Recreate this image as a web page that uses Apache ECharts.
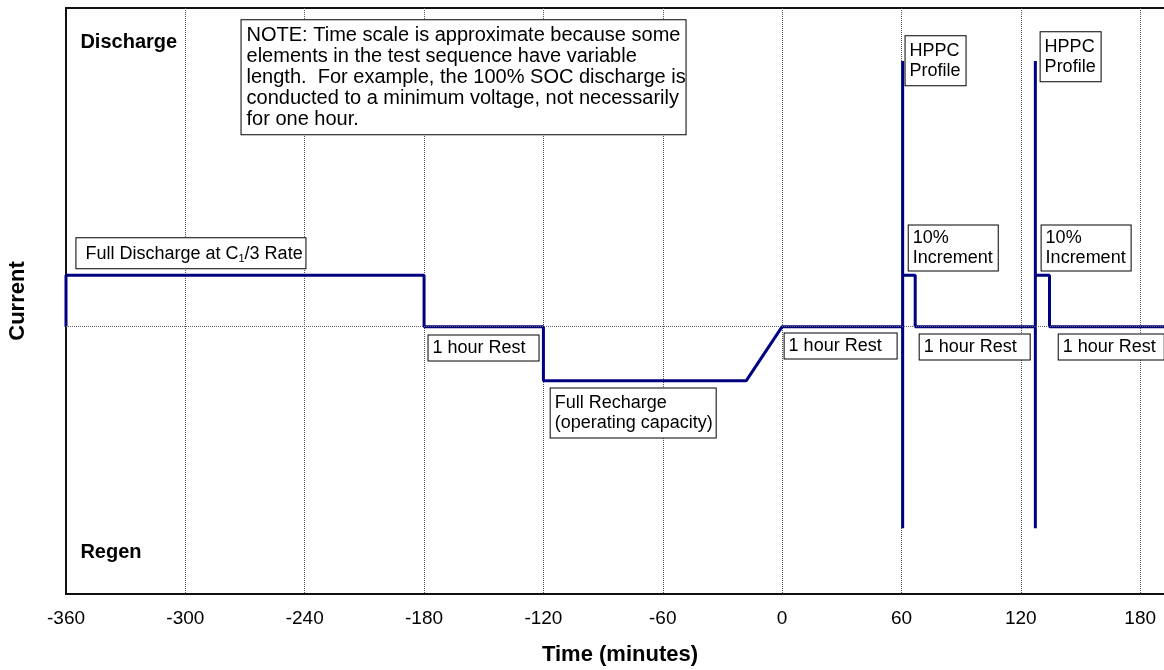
<!DOCTYPE html>
<html>
<head>
<meta charset="utf-8">
<script src="https://cdn.jsdelivr.net/npm/echarts@6/dist/echarts.min.js"></script>
<style>
html,body{margin:0;padding:0;background:#fff;}
#chart{width:1164px;height:670px;}
</style>
</head>
<body>
<div id="chart"></div>
<script>
// ---- Data ----
// Current profile: time (minutes) and relative current (discharge +, regen -)
const profileTime = [-360, -360, -180, -180, -120, -120, -18, 0, 60.6, 60.6, 60.6, 60.6, 66.9, 66.9, 127.3, 127.3, 127.3, 127.3, 134.4, 134.4, 197];
const profileCurrent = [0, 1, 1, 0, 0, -1.05, -1.05, 0, 0, 5.17, -3.92, 1, 1, 0, 0, 5.17, -3.92, 1, 1, 0, 0];
const xTicks = [-360, -300, -240, -180, -120, -60, 0, 60, 120, 180];

// Annotations (anchored in data coordinates: top-left of box)
const annoText = [
  'Full Discharge at C{sub|1}/3 Rate',
  '1 hour Rest',
  'Full Recharge\n(operating capacity)',
  '1 hour Rest',
  '1 hour Rest',
  '1 hour Rest',
  '10%\nIncrement',
  '10%\nIncrement',
  'HPPC\nProfile',
  'HPPC\nProfile',
  'NOTE: Time scale is approximate because some\nelements in the test sequence have variable\nlength.  For example, the 100% SOC discharge is\nconducted to a minimum voltage, not necessarily\nfor one hour.'
];
const annoTime = [-354.5, -177.5, -116.1, 1.5, 69.4, 139.3, 63.9, 130.7, 62.3, 130.2, -271.5];
const annoCurrent = [1.71, -0.18, -1.21, -0.14, -0.16, -0.16, 1.96, 1.96, 5.64, 5.72, 5.95];

// Region labels
const regionText = ['Discharge', 'Regen'];
const regionTime = [-352.5, -352.5];
const regionCurrent = [5.52, -4.40];

// ---- Styles ----
const FONT = '"Liberation Sans", Arial, sans-serif';
const boxStyle = [
  {w: 229, pad: [6, 4, 4, 9], fs: 18, lh: 20},
  {w: 110, pad: [3, 4, 2, 4], fs: 18, lh: 20},
  {w: 165, pad: [5, 4, 4, 4], fs: 18, lh: 20},
  {w: 112, pad: [3, 4, 2, 4], fs: 18, lh: 20},
  {w: 110, pad: [3, 4, 2, 4], fs: 18, lh: 20},
  {w: 105, pad: [3, 4, 2, 4], fs: 18, lh: 20},
  {w: 89, pad: [3, 4, 2, 4], fs: 18, lh: 20},
  {w: 89, pad: [3, 4, 2, 4], fs: 18, lh: 20},
  {w: 60, pad: [5, 4, 4, 4], fs: 18, lh: 20},
  {w: 60, pad: [5, 4, 4, 4], fs: 18, lh: 20},
  {w: 444, pad: [5, 4, 4, 5], fs: 20, lh: 21}
];

const lineData = profileTime.map((t, i) => [t, profileCurrent[i]]);

const annoData = annoText.map((txt, i) => {
  const s = boxStyle[i];
  return {
    value: [annoTime[i], annoCurrent[i]],
    label: {
      show: true,
      position: [0, 0],
      align: 'left',
      verticalAlign: 'top',
      formatter: txt,
      fontFamily: FONT,
      fontSize: s.fs,
      lineHeight: s.lh,
      color: '#000',
      opacity: 1,
      backgroundColor: '#fff',
      borderColor: '#000',
      borderWidth: 1,
      padding: s.pad,
      width: s.w - s.pad[1] - s.pad[3],
      overflow: 'none',
      rich: {
        sub: {fontSize: 11, lineHeight: s.lh, verticalAlign: 'bottom', fontFamily: FONT, color: '#000'}
      }
    }
  };
});

const regionData = regionText.map((txt, i) => ({
  value: [regionTime[i], regionCurrent[i]],
  label: {
    show: true,
    position: [0, 0],
    align: 'left',
    verticalAlign: 'middle',
    formatter: txt,
    fontFamily: FONT,
    fontSize: 20,
    fontWeight: 'bold',
    color: '#000',
    opacity: 1
  }
}));

const chart = echarts.init(document.getElementById('chart'), null, {renderer: 'canvas'});
chart.setOption({
  animation: false,
  backgroundColor: '#fff',
  grid: {
    left: 66, top: 8, bottom: 76, right: -10,
    show: true, borderColor: '#111', borderWidth: 2,
    containLabel: false, outerBoundsMode: 'none'
  },
  xAxis: {
    type: 'value',
    min: -360, max: 197, interval: 60,
    name: 'Time (minutes)',
    nameLocation: 'middle',
    nameGap: 50,
    nameTextStyle: {fontFamily: FONT, fontSize: 22, fontWeight: 'bold', color: '#000'},
    axisLine: {show: true, onZero: false, lineStyle: {color: '#111', width: 2}},
    axisTick: {show: false},
    axisLabel: {
      fontFamily: FONT, fontSize: 19, color: '#000', margin: 15,
      showMaxLabel: false,
      formatter: v => (xTicks.indexOf(v) >= 0 ? String(v) : '')
    },
    splitLine: {show: true, lineStyle: {color: '#555', type: 'dotted', width: 1}}
  },
  yAxis: {
    type: 'value',
    min: -5.2, max: 6.2,
    name: 'Current',
    nameLocation: 'middle',
    nameRotate: 90,
    nameGap: 37,
    nameTextStyle: {fontFamily: FONT, fontSize: 22, fontWeight: 'bold', color: '#000'},
    axisLine: {show: true, onZero: false, lineStyle: {color: '#111', width: 2}},
    axisTick: {show: false},
    axisLabel: {show: false},
    splitLine: {show: false}
  },
  series: [
    {
      type: 'line',
      data: [],
      z: 1,
      silent: true,
      markLine: {
        silent: true,
        symbol: 'none',
        label: {show: false},
        lineStyle: {color: '#666', type: 'dotted', width: 1},
        data: [{yAxis: 0}]
      }
    },
    {
      type: 'line',
      data: lineData,
      z: 3,
      showSymbol: false,
      symbol: 'none',
      lineStyle: {color: '#000080', width: 3},
      silent: true
    },
    {
      type: 'scatter',
      data: annoData.concat(regionData),
      symbolSize: 1,
      z: 5,
      silent: true,
      itemStyle: {color: 'rgba(0,0,0,0)', opacity: 1}
    }
  ]
});
</script>
</body>
</html>
